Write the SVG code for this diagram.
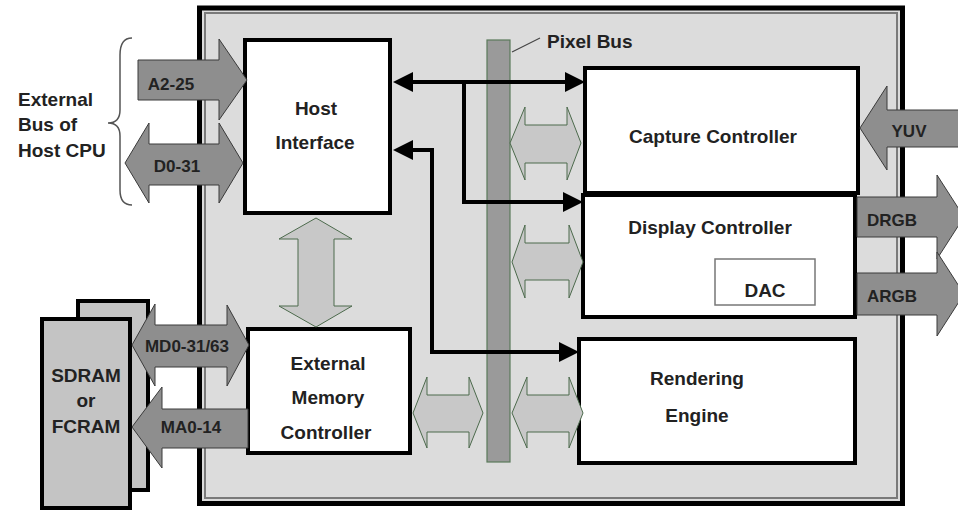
<svg xmlns="http://www.w3.org/2000/svg" width="958" height="510" viewBox="0 0 958 510">
  <style>
    text { font-family: "Liberation Sans", Arial, sans-serif; font-weight: bold; fill: #222; }
    .lbl { font-size: 19px; }
    .blbl { font-size: 17px; }
    .box { fill: #fff; stroke: #000; stroke-width: 4; }
    .mem { fill: #c4c4c4; stroke: #000; stroke-width: 4; }
    .dark { fill: #8e8e8e; stroke: #3a3a3a; stroke-width: 1; }
    .light { fill: #c8c8c8; stroke: #4c6a4c; stroke-width: 1; }
    .wire { fill: none; stroke: #000; stroke-width: 4; }
  </style>
  <defs>
    <marker id="ah" viewBox="0 0 20 20" refX="10" refY="10" markerWidth="20" markerHeight="20" markerUnits="userSpaceOnUse" orient="auto-start-reverse">
      <path d="M0,0 L20,10 L0,20 z" fill="#000"/>
    </marker>
  </defs>

  <rect width="958" height="510" fill="#fff"/>

  <!-- chip outline -->
  <g id="chip">
    <rect x="199.5" y="8" width="703" height="495.5" fill="#dcdcdc" stroke="#000" stroke-width="5"/>
    <rect x="205" y="13" width="692" height="485" fill="none" stroke="#7a7a7a" stroke-width="2"/>
  </g>

  <!-- pixel bus -->
  <g id="pixel-bus">
    <rect x="487" y="40" width="23" height="422" fill="#9a9a9a" stroke="#5a7a5a" stroke-width="1.2"/>
    <line x1="512" y1="52" x2="540" y2="38" stroke="#444" stroke-width="1.2"/>
    <text class="lbl" x="547" y="48">Pixel Bus</text>
  </g>

  <!-- memory chips -->
  <g id="sdram">
    <rect class="mem" x="78" y="301" width="70" height="189"/>
    <rect class="mem" x="42" y="319" width="88" height="189"/>
    <text class="lbl" x="86" y="382" text-anchor="middle">SDRAM</text>
    <text class="lbl" x="86" y="407" text-anchor="middle">or</text>
    <text class="lbl" x="86" y="433" text-anchor="middle">FCRAM</text>
  </g>

  <!-- host bus label -->
  <g id="host-cpu-bus">
    <path d="M132,38 Q120,38 120,55 L120,110 Q120,123 108,123 Q120,123 120,136 L120,190 Q120,205 132,205" fill="none" stroke="#555" stroke-width="1.5"/>
    <text class="lbl" x="18" y="106">External</text>
    <text class="lbl" x="18" y="131">Bus of</text>
    <text class="lbl" x="18" y="157">Host CPU</text>
  </g>

  <g id="host-interface">
    <rect class="box" x="245" y="40" width="145" height="173"/>
    <text class="lbl" x="316" y="115" text-anchor="middle">Host</text>
    <text class="lbl" x="315" y="149" text-anchor="middle">Interface</text>
  </g>

  <g id="capture-controller">
    <rect class="box" x="585" y="68" width="273" height="125"/>
    <text class="lbl" x="713" y="143" text-anchor="middle">Capture Controller</text>
  </g>

  <g id="display-controller">
    <rect class="box" x="583" y="195" width="272" height="122"/>
    <text class="lbl" x="710" y="234" text-anchor="middle">Display Controller</text>
  </g>

  <g id="dac">
    <rect x="715" y="259" width="100" height="46" fill="#fff" stroke="#777" stroke-width="1.5"/>
    <text class="lbl" x="765" y="297" text-anchor="middle">DAC</text>
  </g>

  <g id="rendering-engine">
    <rect class="box" x="579" y="339" width="276" height="124"/>
    <text class="lbl" x="697" y="385" text-anchor="middle">Rendering</text>
    <text class="lbl" x="697" y="422" text-anchor="middle">Engine</text>
  </g>

  <g id="external-memory-controller">
    <rect class="box" x="248" y="329" width="162" height="124"/>
    <text class="lbl" x="328" y="370" text-anchor="middle">External</text>
    <text class="lbl" x="328" y="404" text-anchor="middle">Memory</text>
    <text class="lbl" x="326" y="439" text-anchor="middle">Controller</text>
  </g>

  <g id="connectors">
    <!-- internal pixel-bus taps -->
    <g id="bus-taps">
      <polygon class="light" points="510,143 525,107 525,125 567,125 567,107 581,143 567,180 567,163 525,163 525,180"/>
      <polygon class="light" points="512,262 525,225 525,243 569,243 569,225 583,262 569,298 569,280 525,280 525,298"/>
      <polygon class="light" points="512,413 527,377 527,395 569,395 569,377 583,413 569,448 569,432 527,432 527,448"/>
      <polygon class="light" points="413,413 427,377 427,395 469,395 469,377 483,413 469,448 469,432 427,432 427,448"/>
      <polygon class="light" points="316,218 352,239 334,239 334,306 352,306 316,327 279,306 298,306 298,239 279,239"/>
    </g>

    <!-- external signal buses -->
    <g id="signal-buses">
      <polygon class="dark" points="138,60 219,60 219,39 247,80 219,120 219,100 138,100"/>
      <text class="blbl" x="171" y="90" text-anchor="middle">A2-25</text>
      <polygon class="dark" points="125,163 149,123 149,144 219,144 219,123 243,163 219,203 219,185 149,185 149,203"/>
      <text class="blbl" x="177" y="172" text-anchor="middle">D0-31</text>
      <polygon class="dark" points="132,345 155,304 155,325 227,325 227,305 249,345 227,386 227,367 155,367 155,386"/>
      <text class="blbl" x="187" y="352" text-anchor="middle">MD0-31/63</text>
      <polygon class="dark" points="132,427 162,387 162,409 248,409 248,448 162,448 162,468"/>
      <text class="blbl" x="191" y="433" text-anchor="middle">MA0-14</text>
      <polygon class="dark" points="860,128 887,86 887,110 962,110 962,147 887,147 887,170"/>
      <text class="blbl" x="909" y="137" text-anchor="middle">YUV</text>
      <polygon class="dark" points="857,197 937,197 937,175 964,217 937,259 937,237 857,237"/>
      <text class="blbl" x="892" y="226" text-anchor="middle">DRGB</text>
      <polygon class="dark" points="857,273 937,273 937,252 964,294 937,336 937,315 857,315"/>
      <text class="blbl" x="892" y="302" text-anchor="middle">ARGB</text>
    </g>

    <!-- control wires -->
    <g id="wires">
      <path class="wire" d="M403,82 H575" marker-start="url(#ah)" marker-end="url(#ah)"/>
      <path class="wire" d="M464,82 V202 H573" marker-end="url(#ah)"/>
      <path class="wire" d="M403,150 H432 V352 H569" marker-start="url(#ah)" marker-end="url(#ah)"/>
    </g>
  </g>
</svg>
